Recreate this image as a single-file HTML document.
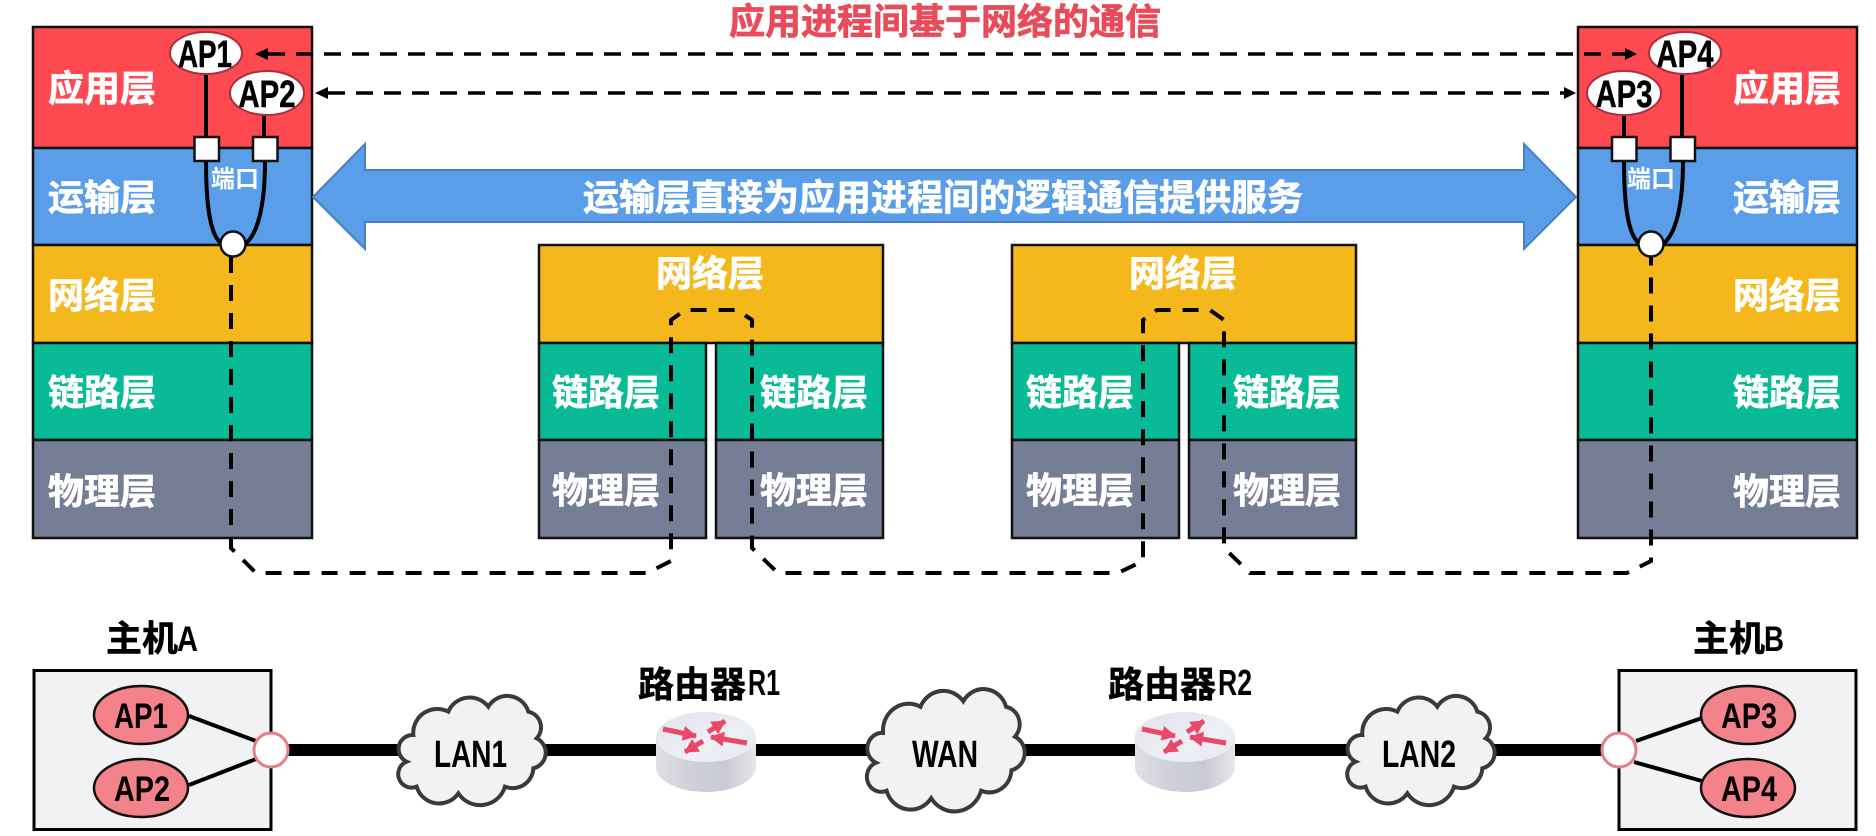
<!DOCTYPE html>
<html>
<head>
<meta charset="utf-8">
<style>
html,body{margin:0;padding:0;background:#fff;width:1876px;height:836px;overflow:hidden}
svg{display:block}
text{font-family:"Liberation Sans","Noto Sans CJK SC",sans-serif;font-weight:700}
.w{fill:#fff;font-size:36px;text-anchor:middle;stroke:#fff;stroke-width:.7}
.k{fill:#000;stroke:#000;stroke-width:.5}
.d{fill:none;stroke:#000;stroke-width:4;stroke-dasharray:16 12}
.s{fill:none;stroke:#000;stroke-width:4}
.r{stroke:#111;stroke-width:2.5}
.c{fill:#f2f1f4;stroke:#3a3a3a;stroke-width:12}
.ar{stroke:#e8486a;stroke-width:5;fill:none;marker-end:url(#mk)}
</style>
</head>
<body>
<svg width="1876" height="836" viewBox="0 0 1876 836" xmlns="http://www.w3.org/2000/svg">
<defs>
<marker id="mk" markerUnits="userSpaceOnUse" markerWidth="16" markerHeight="16" refX="13" refY="7.500" orient="auto"><path d="M0,0 L14,7.500 L0,15 Z" fill="#e8486a"/></marker>
<linearGradient id="side" x1="0" x2="1" y1="0" y2="0"><stop offset="0" stop-color="#dfe0e6"/><stop offset=".35" stop-color="#cfd0d9"/><stop offset=".7" stop-color="#c9cad4"/><stop offset="1" stop-color="#e6e7ec"/></linearGradient>
<linearGradient id="top" x1="0" x2="1" y1="0" y2="1"><stop offset="0" stop-color="#e2e3e8"/><stop offset=".6" stop-color="#edeff6"/><stop offset="1" stop-color="#e6e8ee"/></linearGradient>
<path id="cloud" d="M100,285 A72,72 0 0 1 205,215 A70,70 0 0 1 325,200 A66,66 0 0 1 445,215 A48,48 0 0 1 470,295 A48,48 0 0 1 460,385 A62,62 0 0 1 375,440 A78,78 0 0 1 235,460 A70,70 0 0 1 110,440 A40,40 0 0 1 80,365 A42,42 0 0 1 100,285 Z"/>
<g id="router">
<path d="M656,737 V767 A50,25 0 0 0 756,767 V737 Z" fill="url(#side)"/>
<ellipse cx="706" cy="737" rx="50" ry="25" fill="url(#top)"/>
<path class="ar" d="M663,729 L696,736"/>
<path class="ar" d="M708,732 L725,721"/>
<path class="ar" d="M747,743 L711,737"/>
<path class="ar" d="M703,741 L685,752"/>
</g>
</defs>

<rect class="r" x="33" y="27" width="279" height="121" fill="#fd4a51"/>
<rect class="r" x="33" y="148" width="279" height="97" fill="#5a9eea"/>
<rect class="r" x="33" y="245" width="279" height="98" fill="#f4b81c"/>
<rect class="r" x="33" y="343" width="279" height="97" fill="#09ba97"/>
<rect class="r" x="33" y="440" width="279" height="98" fill="#767e96"/>
<text class="w" x="102" y="101">应用层</text>
<text class="w" x="102" y="210">运输层</text>
<text class="w" x="102" y="308">网络层</text>
<text class="w" x="102" y="405">链路层</text>
<text class="w" x="102" y="504">物理层</text>

<rect class="r" x="1578" y="27" width="279" height="121" fill="#fd4a51"/>
<rect class="r" x="1578" y="148" width="279" height="97" fill="#5a9eea"/>
<rect class="r" x="1578" y="245" width="279" height="98" fill="#f4b81c"/>
<rect class="r" x="1578" y="343" width="279" height="97" fill="#09ba97"/>
<rect class="r" x="1578" y="440" width="279" height="98" fill="#767e96"/>
<text class="w" x="1787" y="101">应用层</text>
<text class="w" x="1787" y="210">运输层</text>
<text class="w" x="1787" y="308">网络层</text>
<text class="w" x="1787" y="405">链路层</text>
<text class="w" x="1787" y="504">物理层</text>

<rect class="r" x="539" y="245" width="344" height="98" fill="#f4b81c"/>
<rect class="r" x="539" y="343" width="167" height="97" fill="#09ba97"/>
<rect class="r" x="539" y="440" width="167" height="98" fill="#767e96"/>
<rect class="r" x="716" y="343" width="167" height="97" fill="#09ba97"/>
<rect class="r" x="716" y="440" width="167" height="98" fill="#767e96"/>
<text class="w" x="710" y="286">网络层</text>
<text class="w" x="606" y="405">链路层</text>
<text class="w" x="606" y="503">物理层</text>
<text class="w" x="814" y="405">链路层</text>
<text class="w" x="814" y="503">物理层</text>

<rect class="r" x="1012" y="245" width="344" height="98" fill="#f4b81c"/>
<rect class="r" x="1012" y="343" width="167" height="97" fill="#09ba97"/>
<rect class="r" x="1012" y="440" width="167" height="98" fill="#767e96"/>
<rect class="r" x="1189" y="343" width="167" height="97" fill="#09ba97"/>
<rect class="r" x="1189" y="440" width="167" height="98" fill="#767e96"/>
<text class="w" x="1183" y="286">网络层</text>
<text class="w" x="1080" y="405">链路层</text>
<text class="w" x="1080" y="503">物理层</text>
<text class="w" x="1287" y="405">链路层</text>
<text class="w" x="1287" y="503">物理层</text>

<text x="945" y="34" text-anchor="middle" style="fill:#e84b5a;stroke:#e84b5a;stroke-width:.7;font-size:36px">应用进程间基于网络的通信</text>

<polygon points="313,197 365,144 365,170 1524,170 1524,144 1576,197 1524,249 1524,222 365,222 365,249" fill="#5a9eea" stroke="#4a80bf" stroke-width="2"/>
<text class="w" x="943" y="210">运输层直接为应用进程间的逻辑通信提供服务</text>

<path d="M268,54 H1626" fill="none" stroke="#000" stroke-width="3.5" stroke-dasharray="17 11"/>
<polygon points="255,54 268,48 268,60" fill="#000"/>
<polygon points="1637,54 1625,48 1625,60" fill="#000"/>
<path d="M328,93 H1564" fill="none" stroke="#000" stroke-width="3.5" stroke-dasharray="17 11"/>
<polygon points="315,93 328,87 328,99" fill="#000"/>
<polygon points="1576,93 1564,87 1564,99" fill="#000"/>

<path class="d" d="M231,257 V548 L256,573 H647 L671,561 V320 L685,310 H737 L752,320 V548 L778,573 H1118 L1143,561 V320 L1157,310 H1210 L1224,320 V548 L1250,573 H1627 L1651,561 V257"/>

<path class="s" d="M206,75 V137 M264,116 V137"/>
<path class="s" d="M206,161 C206,205 210,236 222,244 M265,161 C265,205 258,234 245,244"/>
<rect x="194.500" y="137" width="24.500" height="24" fill="#fff" stroke="#111" stroke-width="2.500"/>
<rect x="253" y="137" width="24.500" height="24" fill="#fff" stroke="#111" stroke-width="2.500"/>
<circle cx="233" cy="244" r="12.500" fill="#fff" stroke="#111" stroke-width="2.500"/>
<text x="235" y="187" text-anchor="middle" style="fill:#fff;font-size:24px">端口</text>
<ellipse cx="206" cy="53" rx="36" ry="21" fill="#fff" stroke="#a8303c" stroke-width="2"/>
<text class="k" x="205" y="67" textLength="54" lengthAdjust="spacingAndGlyphs" text-anchor="middle" style="font-size:38px">AP1</text>
<ellipse cx="267" cy="93" rx="37" ry="22" fill="#fff" stroke="#a8303c" stroke-width="2"/>
<text class="k" x="267" y="107" textLength="57" lengthAdjust="spacingAndGlyphs" text-anchor="middle" style="font-size:38px">AP2</text>

<path class="s" d="M1682,75 V137 M1624,116 V137"/>
<path class="s" d="M1624,161 C1624,205 1628,236 1640,244 M1683,161 C1683,205 1676,234 1663,244"/>
<rect x="1612" y="137" width="24.500" height="24" fill="#fff" stroke="#111" stroke-width="2.500"/>
<rect x="1670.500" y="137" width="24.500" height="24" fill="#fff" stroke="#111" stroke-width="2.500"/>
<circle cx="1651" cy="244" r="12.500" fill="#fff" stroke="#111" stroke-width="2.500"/>
<text x="1651" y="187" text-anchor="middle" style="fill:#fff;font-size:24px">端口</text>
<ellipse cx="1685" cy="53" rx="36" ry="21" fill="#fff" stroke="#a8303c" stroke-width="2"/>
<text class="k" x="1685" y="67" textLength="57" lengthAdjust="spacingAndGlyphs" text-anchor="middle" style="font-size:38px">AP4</text>
<ellipse cx="1624" cy="93" rx="37" ry="22" fill="#fff" stroke="#a8303c" stroke-width="2"/>
<text class="k" x="1624" y="107" textLength="57" lengthAdjust="spacingAndGlyphs" text-anchor="middle" style="font-size:38px">AP3</text>

<rect x="271" y="744" width="1348" height="12" fill="#000"/>

<rect x="34" y="670.500" width="237" height="159" fill="#f2f1f4" stroke="#000" stroke-width="3"/>
<path d="M189,716 L256,741 M189,785 L256,759" stroke="#000" stroke-width="4" fill="none"/>
<ellipse cx="141" cy="715" rx="47" ry="29" fill="#f4828a" stroke="#111" stroke-width="2.500"/>
<ellipse cx="141" cy="788" rx="47" ry="29" fill="#f4828a" stroke="#111" stroke-width="2.500"/>
<text x="141" y="728" textLength="54" lengthAdjust="spacingAndGlyphs" text-anchor="middle" style="font-size:35px;fill:#000">AP1</text>
<text x="142" y="801" textLength="56" lengthAdjust="spacingAndGlyphs" text-anchor="middle" style="font-size:35px;fill:#000">AP2</text>
<circle cx="271" cy="750" r="17" fill="#fff" stroke="#e57f86" stroke-width="3"/>
<text class="k" x="106" y="651" style="font-size:36px">主机</text>
<text x="177" y="651" textLength="21" lengthAdjust="spacingAndGlyphs" style="font-size:35px;fill:#000">A</text>

<rect x="1619" y="670.500" width="237" height="159" fill="#f2f1f4" stroke="#000" stroke-width="3"/>
<path d="M1636,741 L1702,718 M1634,762 L1702,781" stroke="#000" stroke-width="4" fill="none"/>
<ellipse cx="1748" cy="715" rx="47" ry="29" fill="#f4828a" stroke="#111" stroke-width="2.500"/>
<ellipse cx="1748" cy="788" rx="47" ry="29" fill="#f4828a" stroke="#111" stroke-width="2.500"/>
<text x="1749" y="728" textLength="56" lengthAdjust="spacingAndGlyphs" text-anchor="middle" style="font-size:35px;fill:#000">AP3</text>
<text x="1749" y="801" textLength="56" lengthAdjust="spacingAndGlyphs" text-anchor="middle" style="font-size:35px;fill:#000">AP4</text>
<circle cx="1619" cy="750" r="17" fill="#fff" stroke="#e57f86" stroke-width="3"/>
<text class="k" x="1693" y="651" style="font-size:36px">主机</text>
<text x="1764" y="651" textLength="20" lengthAdjust="spacingAndGlyphs" style="font-size:35px;fill:#000">B</text>

<g transform="translate(380,640) scale(.3333)"><use href="#cloud" class="c"/></g>
<text x="470.500" y="767" textLength="73" lengthAdjust="spacingAndGlyphs" text-anchor="middle" style="font-size:38px;fill:#000">LAN1</text>
<g transform="translate(847.400,626.500) scale(.3566,.3733)"><use href="#cloud" class="c" style="stroke-width:11"/></g>
<text x="945" y="767" textLength="66" lengthAdjust="spacingAndGlyphs" text-anchor="middle" style="font-size:38px;fill:#000">WAN</text>
<g transform="translate(1329,640) scale(.3333)"><use href="#cloud" class="c"/></g>
<text x="1419" y="767" textLength="74" lengthAdjust="spacingAndGlyphs" text-anchor="middle" style="font-size:38px;fill:#000">LAN2</text>

<use href="#router"/>
<use href="#router" transform="translate(479,0)"/>
<text class="k" x="638" y="697" style="font-size:36px">路由器</text>
<text x="748" y="695" textLength="32" lengthAdjust="spacingAndGlyphs" style="font-size:36px;fill:#000">R1</text>
<text class="k" x="1108" y="697" style="font-size:36px">路由器</text>
<text x="1218" y="695" textLength="34" lengthAdjust="spacingAndGlyphs" style="font-size:36px;fill:#000">R2</text>
</svg>
</body>
</html>
